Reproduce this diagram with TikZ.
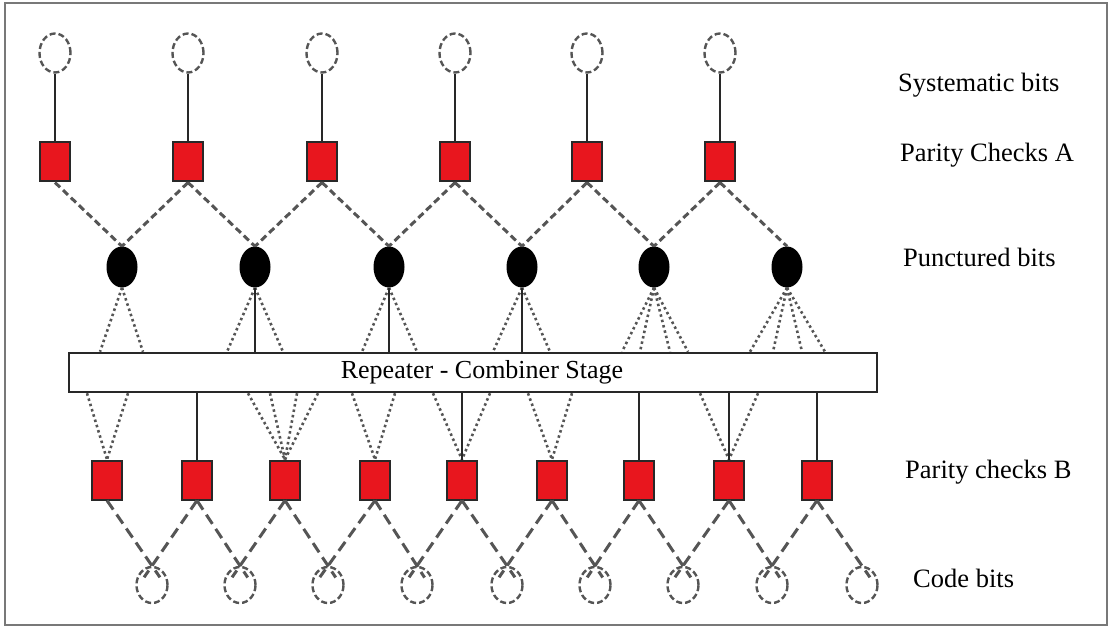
\documentclass[tikz,border=0pt]{standalone}
\usepackage{fontspec}
\setmainfont{Liberation Serif}
\usetikzlibrary{shapes.geometric}
\definecolor{pred}{RGB}{232,22,30}
\definecolor{edgedark}{RGB}{40,40,40}
\definecolor{lgray}{RGB}{85,85,85}
\definecolor{framegray}{RGB}{120,120,120}
\begin{document}
\begin{tikzpicture}[x=1pt,y=-1pt,
  frame/.style={draw=framegray,line width=1.5pt},
  sysbit/.style={ellipse,draw=lgray,line width=2.4pt,dash pattern=on 6pt off 3pt,minimum width=31pt,minimum height=39pt,inner sep=0pt},
  codebit/.style={ellipse,draw=lgray,line width=2.4pt,dash pattern=on 6pt off 3pt,minimum width=31pt,minimum height=36pt,inner sep=0pt},
  pcheck/.style={rectangle,draw=edgedark,fill=pred,line width=2pt,minimum width=30pt,minimum height=39pt,inner sep=0pt},
  punct/.style={ellipse,fill=black,minimum width=31pt,minimum height=41pt,inner sep=0pt},
  rcbox/.style={rectangle,draw=edgedark,line width=2.5pt,fill=white,minimum width=808pt,minimum height=39pt,inner sep=0pt},
  solidln/.style={draw=edgedark,line width=2.2pt},
  dashA/.style={draw=lgray,line width=3pt,dash pattern=on 7pt off 4pt},
  dashB/.style={draw=lgray,line width=3pt,dash pattern=on 11pt off 6pt},
  dotln/.style={draw=lgray,line width=2.6pt,dash pattern=on 2.5pt off 3pt},
  lbl/.style={anchor=west,inner sep=0pt,font=\fontsize{26.5}{30}\selectfont}
]
\useasboundingbox (0,0) rectangle (1112,628);
\draw[frame] (5,3) rectangle (1107,625);

% systematic bits and parity checks A
\foreach \i/\x in {1/55,2/188,3/322,4/455,5/587,6/720}{
  \node[sysbit] (s\i) at (\x,53) {};
  \node[pcheck] (a\i) at (\x,162) {};
  \draw[solidln] (s\i.south) -- (a\i.north);
}

% punctured bits
\foreach \i/\x in {1/122,2/255,3/389,4/522,5/654,6/787}{
  \node[punct] (p\i) at (\x,267) {};
}
\foreach \i in {1,...,6}{ \draw[dashA] (a\i.south) -- (p\i.north); }
\foreach \i/\j in {2/1,3/2,4/3,5/4,6/5}{ \draw[dashA] (a\i.south) -- (p\j.north); }

% repeater-combiner box
\node[rcbox] (rc) at (473,372.5) {};
\node[inner sep=0pt,font=\fontsize{26}{30}\selectfont] (rct) at (482,372.5) {Repeater - Combiner Stage};

% connections punctured -> box
\foreach \i/\x in {1/100,1/143,2/227,2/283,3/362,3/417,4/493,4/550,5/622,5/640,5/670,5/688,6/750,6/773,6/802,6/825}{
  \draw[dotln] (p\i.south) -- (\x,0 |- rc.north);
}
\foreach \i in {2,3,4}{ \draw[solidln] (p\i.south) -- (p\i.south |- rc.north); }

% parity checks B
\foreach \i/\x in {1/107,2/197,3/285,4/375,5/462,6/552,7/639,8/729,9/817}{
  \node[pcheck] (b\i) at (\x,480) {};
}
\foreach \i/\x in {1/87,1/128,3/248,3/270,3/297,3/318,4/352,4/395,5/433,5/490,6/528,6/572,8/700,8/758}{
  \draw[dotln] (\x,0 |- rc.south) -- (b\i.north);
}
\foreach \i in {2,5,7,8,9}{ \draw[solidln] (b\i.north |- rc.south) -- (b\i.north); }

% code bits
\foreach \i/\x in {1/152,2/240,3/328,4/417,5/507,6/595,7/683,8/772,9/862}{
  \node[codebit] (c\i) at (\x,585) {};
}
\foreach \i in {1,...,9}{ \draw[dashB,shorten >=-14pt] (b\i.south) -- (c\i.north); }
\foreach \i/\j in {2/1,3/2,4/3,5/4,6/5,7/6,8/7,9/8}{ \draw[dashB,shorten >=-14pt] (b\i.south) -- (c\j.north); }

% labels
\node[lbl] (l1) at (898,85) {Systematic bits};
\node[lbl] (l2) at (900,155) {Parity Checks A};
\node[lbl] (l3) at (903,257) {Punctured bits};
\node[lbl] (l4) at (905,472) {Parity checks B};
\node[lbl] (l5) at (913,578) {Code bits};
\end{tikzpicture}
\end{document}
